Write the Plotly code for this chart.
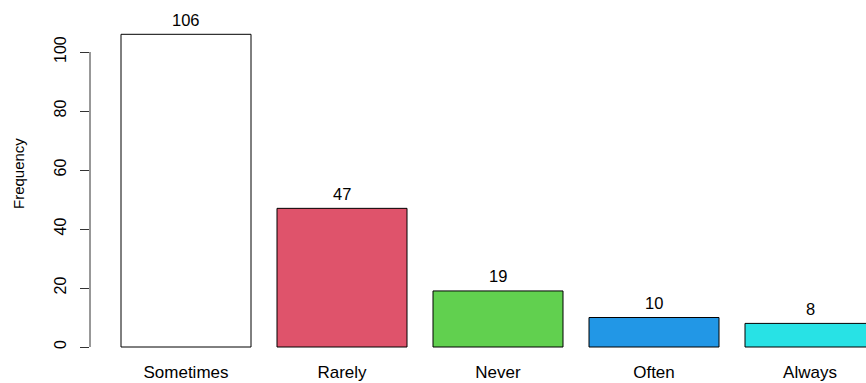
import plotly.graph_objects as go

categories = ["Sometimes", "Rarely", "Never", "Often", "Always"]
frequency = [106, 47, 19, 10, 8]
bar_colors = ["#FFFFFF", "#DF536B", "#61D04F", "#2297E6", "#28E2E5"]
y_ticks = [0, 20, 40, 60, 80, 100]

W, H = 866, 383
ml, mb = 90, 28
plot_h = H - mb
px_per_unit = 2.95
zero_px = 347
y_min = (zero_px - plot_h) / px_per_unit
y_max = zero_px / px_per_unit

font = "Liberation Sans, Arial, sans-serif"

fig = go.Figure()
fig.add_trace(go.Bar(
    x=categories, y=frequency,
    marker=dict(color=bar_colors, line=dict(color="#000000", width=1)),
    width=0.8333,
    hoverinfo="x+y",
))

for c, v in zip(categories, frequency):
    fig.add_annotation(x=c, y=v, text=str(v), showarrow=False,
                       xref="x", yref="y", yanchor="middle", yshift=14.5,
                       font=dict(family=font, size=16.5, color="#000"))

fig.add_annotation(text="Frequency", xref="paper", yref="paper",
                   x=(18 - ml) / (W - ml), y=1 - 174 / plot_h,
                   xanchor="center", yanchor="middle", textangle=-90,
                   showarrow=False, font=dict(family=font, size=15, color="#000"))

fig.add_shape(type="line", xref="paper", yref="y", x0=0, x1=0,
              y0=y_ticks[0], y1=y_ticks[-1], line=dict(color="#333", width=1))

fig.update_layout(
    width=W, height=H,
    margin=dict(l=ml, r=0, t=0, b=mb, autoexpand=False),
    plot_bgcolor="white", paper_bgcolor="white",
    showlegend=False,
    xaxis=dict(range=[(ml - 186) / 156, (W - 186) / 156], automargin=False,
               showline=False, showgrid=False, zeroline=False, ticks="",
               ticklabelstandoff=5,
               tickfont=dict(family=font, size=17, color="#000")),
    yaxis=dict(range=[y_min, y_max], tickvals=y_ticks, automargin=False,
               showline=False, showgrid=False, zeroline=False,
               ticks="outside", ticklen=9, tickcolor="#333",
               tickangle=-90, ticklabelstandoff=8,
               tickfont=dict(family=font, size=16, color="#000")),
)

fig.write_html("out.html")
